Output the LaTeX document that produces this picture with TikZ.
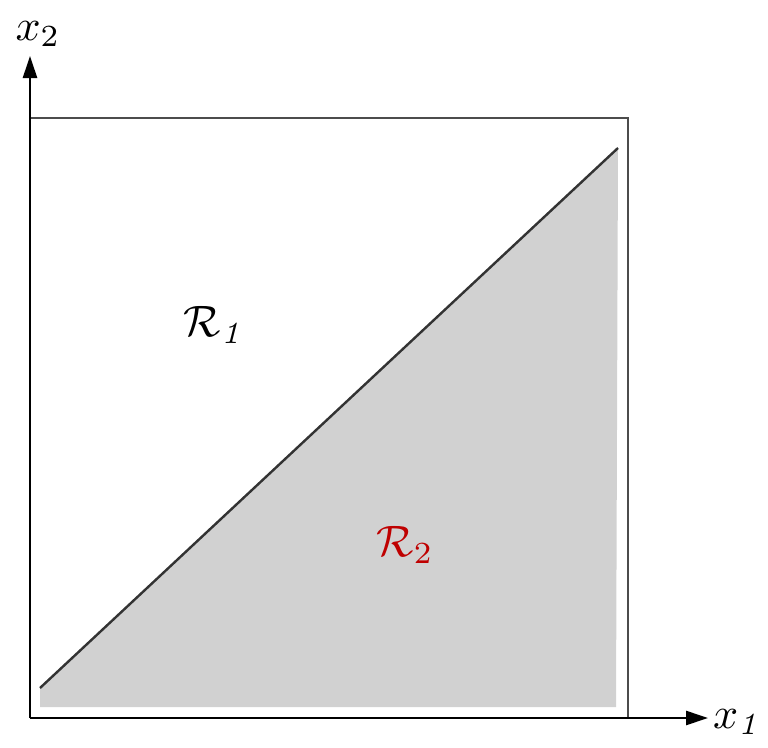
\documentclass[tikz,border=0pt]{standalone}
\usetikzlibrary{arrows.meta}
\begin{document}
\begin{tikzpicture}[x=1pt,y=-1pt,
  ax/.style={line width=2.6pt,-{Triangle[length=22pt,width=14pt]}},
  frame/.style={line width=2.4pt,draw=black!70},
  lbl/.style={inner sep=0pt,scale=4.4}]
\useasboundingbox (0,0) rectangle (768,747);
\fill[black!18] (40,688) -- (618,148) -- (616,707) -- (40,707) -- cycle;
\coordinate (o) at (30,718);
\coordinate (tl) at (30,118);
\coordinate (tr) at (628,118);
\coordinate (br) at (628,718);
\draw[frame] (tl) -- (tr) -- (br);
\coordinate (d1) at (40,688);
\coordinate (d2) at (618,148);
\draw[line width=2.4pt,draw=black!80] (d1) -- (d2);
\coordinate (xe) at (708,718);
\coordinate (ye) at (30,56);
\draw[ax] (o) -- (xe);
\draw[ax] (o) -- (ye);
\node[lbl] (x1) at (738,722) {$x_{\mathit{1}}$};
\node[lbl] (x2) at (38,34) {$x_2$};
\node[lbl] (r1) at (215,325) {$\mathcal{R}_{\mathit{1}}$};
\node[lbl,text=red!75!black] (r2) at (405,545) {$\mathcal{R}_{2}$};
\end{tikzpicture}
\end{document}
